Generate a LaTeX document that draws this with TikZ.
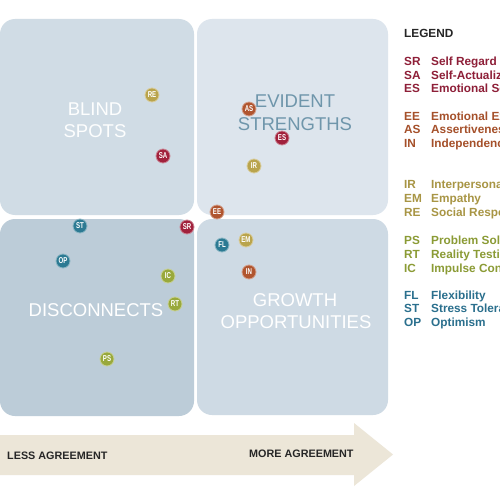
\documentclass[tikz,border=0pt]{standalone}
\usepackage{fontspec}
\usepackage{graphicx}
\setmainfont{Liberation Sans}
\definecolor{qTL}{HTML}{D0DCE5}
\definecolor{qTR}{HTML}{DDE5ED}
\definecolor{qBL}{HTML}{BCCCD8}
\definecolor{qBR}{HTML}{CEDAE4}
\definecolor{arrowc}{HTML}{ECE6D8}
\definecolor{evc}{HTML}{6F96AB}
\definecolor{cR}{HTML}{A1213C}
\definecolor{cO}{HTML}{B0552F}
\definecolor{cY}{HTML}{B9A44C}
\definecolor{cG}{HTML}{99A93C}
\definecolor{cB}{HTML}{2C7A93}
\definecolor{tR}{HTML}{8E1F38}
\definecolor{tO}{HTML}{A5502A}
\definecolor{tY}{HTML}{A89544}
\definecolor{tG}{HTML}{8B9B35}
\definecolor{tB}{HTML}{2A6F8D}
\newcommand{\dotlab}[1]{\scalebox{0.72}[1]{#1}}
\tikzset{
  quad/.style={rounded corners=15pt},
  qlab/.style={anchor=base,inner sep=0pt,font=\fontsize{18.5}{22}\selectfont},
  dot/.style={circle,fill=#1,draw=#1!55!white,line width=0.8pt,minimum size=14pt,inner sep=0pt,text=white,font=\fontsize{8.5}{8.5}\selectfont\bfseries},
  leg/.style={anchor=base west,inner sep=0pt,font=\fontsize{11.8}{14}\selectfont\bfseries,text=#1},
  axlab/.style={anchor=base west,inner sep=0pt,font=\fontsize{10.8}{13}\selectfont\bfseries,text=black!85},
}
\begin{document}
\begin{tikzpicture}[x=1pt,y=-1pt]
\useasboundingbox (0,0) rectangle (500,500);
\fill[white] (0,0) rectangle (500,500);
% quadrants
\fill[qTL,quad] (0,19) rectangle (194,215);
\fill[qTR,quad] (197,19) rectangle (388,215);
\fill[qBL,quad] (0,219) rectangle (194,416);
\fill[qBR,quad] (197,219) rectangle (388,415);
% quadrant labels
\node[qlab,text=white!97!qTL] (l1) at (95,115) {BLIND};
\node[qlab,text=white!97!qTL] (l2) at (95,137) {SPOTS};
\node[qlab,text=evc] (l3) at (295,108) {EVIDENT};
\node[qlab,text=evc] (l4) at (295,130) {STRENGTHS};
\node[qlab,text=white] (l5) at (96,316) {DISCONNECTS};
\node[qlab,text=white] (l6) at (295,306) {GROWTH};
\node[qlab,text=white] (l7) at (296,328) {OPPORTUNITIES};
% arrow
\fill[arrowc] (0,435) -- (354,435) -- (354,423) -- (393,454.5) -- (354,486) -- (354,475) -- (0,475) -- cycle;
\node[axlab] (less) at (7,459) {LESS AGREEMENT};
\node[axlab] (more) at (249,457) {MORE AGREEMENT};
% dots
\node[dot=cY] (RE) at (152,95) {\dotlab{RE}};
\node[dot=cR] (SA) at (163,156) {\dotlab{SA}};
\node[dot=cO] (AS) at (249,109) {\dotlab{AS}};
\node[dot=cR] (ES) at (282,138) {\dotlab{ES}};
\node[dot=cY] (IR) at (254,166) {\dotlab{IR}};
\node[dot=cO] (EE) at (217,212) {\dotlab{EE}};
\node[dot=cR] (SR) at (187,227) {\dotlab{SR}};
\node[dot=cB] (ST) at (80,226) {\dotlab{ST}};
\node[dot=cB] (OP) at (63,261) {\dotlab{OP}};
\node[dot=cB] (FL) at (222,245) {\dotlab{FL}};
\node[dot=cY] (EM) at (246,240) {\dotlab{EM}};
\node[dot=cO] (IN) at (249,272) {\dotlab{IN}};
\node[dot=cG] (IC) at (168,276) {\dotlab{IC}};
\node[dot=cG] (RT) at (175,304) {\dotlab{RT}};
\node[dot=cG] (PS) at (107,359) {\dotlab{PS}};
% legend
\node[leg=black!85] (lg) at (404,37.5) {LEGEND};
\foreach \y/\a/\n/\c [count=\i] in {
  61/SR/Self Regard/tR, 75/SA/Self-Actualization/tR, 88/ES/Emotional Self-Awareness/tR,
  116/EE/Emotional Expression/tO, 129/AS/Assertiveness/tO, 143/IN/Independence/tO,
  184/IR/Interpersonal Relationships/tY, 198/EM/Empathy/tY, 212/RE/Social Responsibility/tY,
  240/PS/Problem Solving/tG, 254/RT/Reality Testing/tG, 268/IC/Impulse Control/tG,
  295/FL/Flexibility/tB, 308/ST/Stress Tolerance/tB, 322/OP/Optimism/tB}{
  \node[leg=\c] (la\i) at (404,\y+4.3) {\a};
  \node[leg=\c] (ln\i) at (431,\y+4.3) {\n};
}
\end{tikzpicture}
\end{document}
